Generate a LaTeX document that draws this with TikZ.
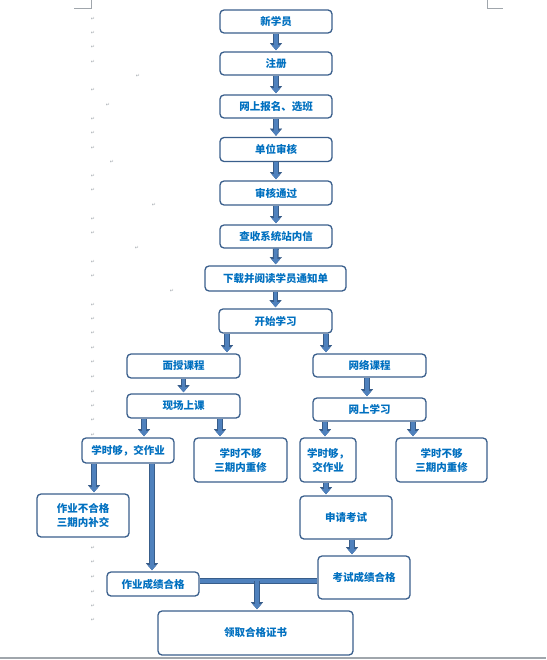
\documentclass[tikz,border=0pt]{standalone}
\usepackage{fontspec}
\newfontfamily\cjk{Noto Sans CJK SC}
\newfontfamily\pmfont{DejaVu Sans}
\usetikzlibrary{arrows.meta}

\definecolor{boxline}{RGB}{58,95,140}
\definecolor{arrowfill}{RGB}{79,129,189}
\definecolor{arrowline}{RGB}{56,93,138}
\definecolor{labelblue}{RGB}{0,112,192}
\definecolor{pagegray}{RGB}{160,166,172}

\tikzset{
  stepbox/.style={draw=boxline, line width=1.3pt, rounded corners=4pt, fill=white,
    text=labelblue, font=\cjk\bfseries\fontsize{10.5}{14}\selectfont, align=center, inner sep=0pt},
  blk/.style={draw=arrowfill, line width=3.4pt,
    -{Triangle[width=8.5pt,length=5pt,line width=0.1pt]}, shorten >=1.2pt,
    preaction={draw=arrowline, line width=5.8pt,
      -{Triangle[width=12pt,length=7pt,line width=0.1pt]}}},
  bar/.style={draw=arrowline, line width=6pt,
    postaction={draw=arrowfill, line width=3.6pt}},
  pmark/.style={text=pagegray, font=\pmfont\fontsize{5}{5}\selectfont, inner sep=0pt}
}

\begin{document}
\begin{tikzpicture}[x=1pt,y=-1pt]
  \useasboundingbox (0,0) rectangle (546,660);

  % page marks of the word document
  \draw[pagegray, line width=1pt] (74,9) -- (91,9) -- (91,0);
  \draw[pagegray, line width=1pt] (487,0) -- (487,9) -- (503,9);
  \draw[pagegray, line width=1.5pt] (0,658) -- (546,658);
  \foreach \y [count=\i] in {19,33,47,62,90,119,133,148,176,190,219,233,262,276,305,319,
      333,348,362,377,392,406,420,435,534,548,562,577,592,606,620}
    \node[pmark] (pm\i) at (93,\y) {↵};
  \foreach \x/\y [count=\i] in {138/76,108/105,112/162,154/205,137/248,172/291}
    \node[pmark] (pi\i) at (\x,\y) {↵};

  % main chain
  \node[stepbox, minimum width=112pt, minimum height=23pt] (new) at (276,21.5) {新学员};
  \node[stepbox, minimum width=112pt, minimum height=23pt] (reg) at (276,63.5) {注册};
  \node[stepbox, minimum width=112pt, minimum height=23pt] (apply) at (276,106.5) {网上报名、选班};
  \node[stepbox, minimum width=112pt, minimum height=24pt] (check) at (276,149.5) {单位审核};
  \node[stepbox, minimum width=112pt, minimum height=24pt] (pass) at (276,193) {审核通过};
  \node[stepbox, minimum width=112pt, minimum height=23pt] (mail) at (276,236.5) {查收系统站内信};
  \node[stepbox, minimum width=141pt, minimum height=25pt] (notice) at (275.5,278.5) {下载并阅读学员通知单};
  \node[stepbox, minimum width=113pt, minimum height=24pt] (start) at (275.5,321) {开始学习};

  % two branches
  \node[stepbox, minimum width=113pt, minimum height=24pt] (face) at (183.5,366) {面授课程};
  \node[stepbox, minimum width=113pt, minimum height=23pt] (web) at (369.5,365.5) {网络课程};
  \node[stepbox, minimum width=113pt, minimum height=24pt] (onsite) at (183.5,406) {现场上课};
  \node[stepbox, minimum width=113pt, minimum height=23pt] (online) at (369.5,409.5) {网上学习};

  \node[stepbox, minimum width=92pt, minimum height=25pt] (hwok) at (128,450.5) {学时够，交作业};
  \node[stepbox, minimum width=92pt, minimum height=43pt] (hwbad) at (83,515.5) {作业不合格\\三期内补交};
  \node[stepbox, minimum width=93pt, minimum height=44pt] (shortl) at (240.5,460) {学时不够\\三期内重修};
  \node[stepbox, minimum width=56pt, minimum height=44pt] (hwokr) at (328,460) {学时够，\\交作业};
  \node[stepbox, minimum width=91pt, minimum height=44pt] (shortr) at (441.5,460) {学时不够\\三期内重修};
  \node[stepbox, minimum width=92pt, minimum height=43pt] (exam) at (346,517.5) {申请考试};
  \node[stepbox, minimum width=92pt, minimum height=24pt] (hwgood) at (153,584) {作业成绩合格};
  \node[stepbox, minimum width=92pt, minimum height=43pt] (examgood) at (364,577.5) {考试成绩合格};
  \node[stepbox, minimum width=195pt, minimum height=44pt] (cert) at (255.5,633) {领取合格证书};

  \coordinate (join) at (257,581);

  % arrows
  \draw[blk] (new) -- (reg);
  \draw[blk] (reg) -- (apply);
  \draw[blk] (apply) -- (check);
  \draw[blk] (check) -- (pass);
  \draw[blk] (pass) -- (mail);
  \draw[blk] (mail) -- (notice);
  \draw[blk] (notice) -- (start);
  \draw[blk] ([xshift=-48.5pt]start.south) -- ([xshift=-48.5pt]start.south |- face.north);
  \draw[blk] ([xshift=50.5pt]start.south) -- ([xshift=50.5pt]start.south |- web.north);
  \draw[blk] (face) -- (onsite);
  \draw[blk] ([xshift=-2.5pt]web.south) -- ([xshift=-2.5pt]web.south |- online.north);
  \draw[blk] ([xshift=-39.5pt]onsite.south) -- ([xshift=-39.5pt]onsite.south |- hwok.north);
  \draw[blk] ([xshift=36.5pt]onsite.south) -- ([xshift=36.5pt]onsite.south |- shortl.north);
  \draw[blk] ([xshift=-44.5pt]online.south) -- ([xshift=-44.5pt]online.south |- hwokr.north);
  \draw[blk] ([xshift=43.5pt]online.south) -- ([xshift=43.5pt]online.south |- shortr.north);
  \draw[blk] ([xshift=-34pt]hwok.south) -- ([xshift=-34pt]hwok.south |- hwbad.north);
  \draw[blk] ([xshift=24pt]hwok.south) -- ([xshift=24pt]hwok.south |- hwgood.north);
  \draw[blk] ([xshift=-2pt]hwokr.south) -- ([xshift=-2pt]hwokr.south |- exam.north);
  \draw[blk] ([xshift=6pt]exam.south) -- ([xshift=6pt]exam.south |- examgood.north);
  \draw[bar] (hwgood.east |- join) -- (examgood.west |- join);
  \draw[blk] (join) -- (join |- cert.north);
\end{tikzpicture}
\end{document}
